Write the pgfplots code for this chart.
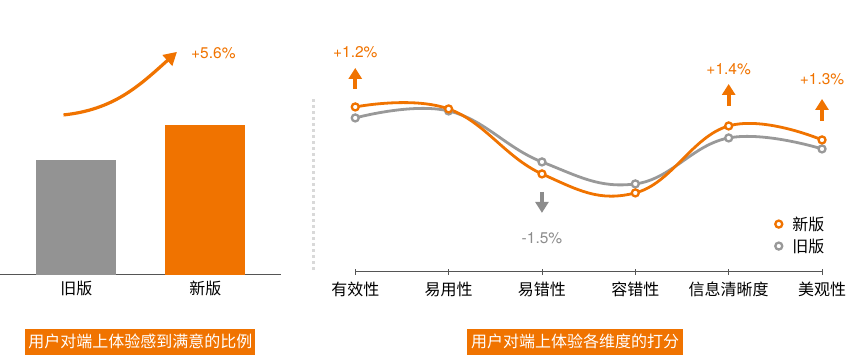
\documentclass[border=0pt]{standalone}
\usepackage{pgfplots}
\pgfplotsset{compat=1.18}
\usetikzlibrary{arrows.meta}
\usepackage{fontspec}
\setmainfont{TeX Gyre Heros}
\newfontfamily\cjk{Noto Sans CJK SC}
\definecolor{org}{HTML}{F07300}
\definecolor{barg}{HTML}{939393}
\definecolor{lineg}{HTML}{999999}
\definecolor{axg}{HTML}{555555}
\definecolor{txtg}{HTML}{8C8C8C}
\begin{document}
\begin{tikzpicture}
% ---------- left panel ----------
\begin{axis}[at={(0pt,85pt)}, anchor=south west, scale only axis,
  width=281pt, height=255pt,
  xmin=-0.589, xmax=1.589, ymin=0, ymax=40.8,
  axis x line=bottom, axis y line=none,
  axis line style={axg, line width=0.9pt, -},
  xtick={0,1}, xticklabels={旧版,新版},
  xticklabel style={font=\cjk\fontsize{16}{18}\selectfont, text=black, yshift=-3pt},
  major tick length=0pt,
  ybar, bar width=0.62, bar shift=0pt, clip=false]
\addplot[fill=barg, draw=none] coordinates {(0,18.4)};
\addplot[fill=org, draw=none] coordinates {(1,24.0)};
\draw[org, line width=3.2pt, -{Triangle[length=13pt,width=14pt]}]
  (axis cs:-0.1,25.6) to[out=6,in=222] (axis cs:0.78,35.7);
\node[text=org, font=\fontsize{15.5}{17}\selectfont] at (axis cs:1.062,35.5) {+5.6\%};
\end{axis}
% ---------- right panel ----------
\begin{axis}[at={(355pt,88pt)}, anchor=south west, scale only axis,
  width=467pt, height=175pt,
  xmin=0, xmax=5, ymin=3, ymax=4.75,
  axis x line=bottom, axis y line=none,
  axis line style={axg, line width=0.8pt, -},
  xtick={0,1,2,3,4,5},
  xticklabels={有效性,易用性,易错性,容错性,信息清晰度,美观性},
  xticklabel style={font=\cjk\fontsize{16}{18}\selectfont, text=black, yshift=-4pt},
  tick style={axg, line width=0.8pt}, major tick length=6pt, tick align=center,
  clip=false,
  legend image code/.code={\draw[#1] plot coordinates {(4pt,0pt)};},
  legend style={at={(rel axis cs:0.893,0.34)}, anchor=north west, draw=none, fill=none,
    font=\cjk\fontsize{16}{18}\selectfont, row sep=3pt, column sep=8pt},
  legend cell align=left]
\addlegendimage{only marks, mark=*, mark size=3.5pt, mark options={fill=white, draw=org, line width=2.3pt}}
\addlegendentry{新版}
\addlegendimage{only marks, mark=*, mark size=3.5pt, mark options={fill=white, draw=lineg, line width=2.3pt}}
\addlegendentry{旧版}
\draw[gray!30, line width=3pt, dash pattern=on 3pt off 3pt] (axis cs:-0.45,3.02) -- (axis cs:-0.45,4.75);
\addplot[forget plot, lineg, line width=2.8pt, smooth, tension=0.7, mark=*, mark size=3.5pt,
  mark options={fill=white, draw=lineg, line width=2.3pt}]
  coordinates {(0,4.54)(1,4.61)(2,4.10)(3,3.88)(4,4.34)(5,4.23)};
\addplot[forget plot, org, line width=2.8pt, smooth, tension=0.7, mark=*, mark size=3.5pt,
  mark options={fill=white, draw=org, line width=2.3pt}]
  coordinates {(0,4.65)(1,4.63)(2,3.98)(3,3.79)(4,4.46)(5,4.32)};
% annotations
\draw[org, line width=4pt, -{Triangle[length=11pt,width=13pt]}] (axis cs:0,4.83) -- (axis cs:0,5.04);
\node[text=org, font=\fontsize{15.5}{17}\selectfont] at (axis cs:0,5.20) {+1.2\%};
\draw[org, line width=4pt, -{Triangle[length=11pt,width=13pt]}] (axis cs:4,4.66) -- (axis cs:4,4.88);
\node[text=org, font=\fontsize{15.5}{17}\selectfont] at (axis cs:4,5.03) {+1.4\%};
\draw[org, line width=4pt, -{Triangle[length=11pt,width=13pt]}] (axis cs:5,4.51) -- (axis cs:5,4.73);
\node[text=org, font=\fontsize{15.5}{17}\selectfont] at (axis cs:5,4.93) {+1.3\%};
\draw[txtg, line width=4pt, -{Triangle[length=11pt,width=13pt]}] (axis cs:2,3.80) -- (axis cs:2,3.59);
\node[text=txtg, font=\fontsize{15.5}{17}\selectfont] at (axis cs:2,3.34) {-1.5\%};
\end{axis}
% ---------- titles ----------
\node[fill=org, text=white, font=\cjk\fontsize{16}{18}\selectfont, minimum width=230pt, minimum height=26pt, inner sep=0pt] at (140pt,18pt) {用户对端上体验感到满意的比例};
\node[fill=org, text=white, font=\cjk\fontsize{16}{18}\selectfont, minimum width=216pt, minimum height=26pt, inner sep=0pt] at (575pt,18pt) {用户对端上体验各维度的打分};
\path (0pt,0pt) rectangle (864pt,360pt);
\end{tikzpicture}
\end{document}
